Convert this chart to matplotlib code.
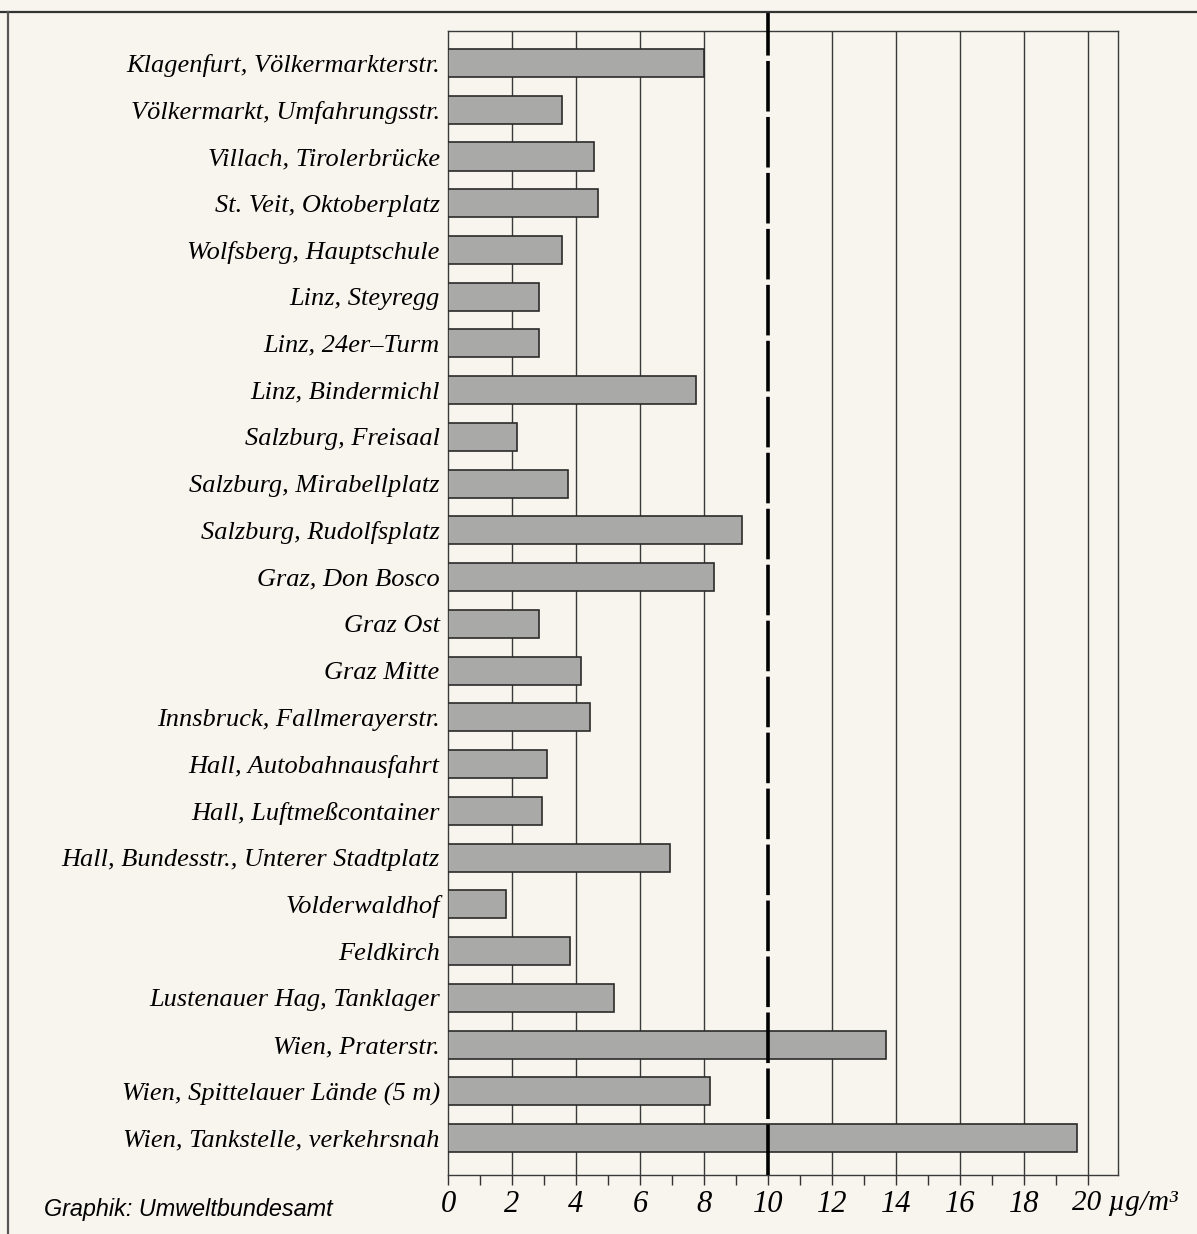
"""Benzene annual means at Austrian monitoring sites (bar chart)."""

import matplotlib

matplotlib.use("Agg")
import matplotlib.pyplot as plt
from matplotlib.lines import Line2D
import numpy as np

stations = [
    "Klagenfurt, Völkermarkterstr.",
    "Völkermarkt, Umfahrungsstr.",
    "Villach, Tirolerbrücke",
    "St. Veit, Oktoberplatz",
    "Wolfsberg, Hauptschule",
    "Linz, Steyregg",
    "Linz, 24er–Turm",
    "Linz, Bindermichl",
    "Salzburg, Freisaal",
    "Salzburg, Mirabellplatz",
    "Salzburg, Rudolfsplatz",
    "Graz, Don Bosco",
    "Graz Ost",
    "Graz Mitte",
    "Innsbruck, Fallmerayerstr.",
    "Hall, Autobahnausfahrt",
    "Hall, Luftmeßcontainer",
    "Hall, Bundesstr., Unterer Stadtplatz",
    "Volderwaldhof",
    "Feldkirch",
    "Lustenauer Hag, Tanklager",
    "Wien, Praterstr.",
    "Wien, Spittelauer Lände (5 m)",
    "Wien, Tankstelle, verkehrsnah",
]
values = [
    8.0, 3.55, 4.55, 4.7, 3.55, 2.85, 2.85, 7.75, 2.15, 3.75, 9.2, 8.3,
    2.85, 4.15, 4.45, 3.1, 2.95, 6.95, 1.8, 3.8, 5.2, 13.7, 8.2, 19.65,
]
x_ticks = [0, 2, 4, 6, 8, 10, 12, 14, 16, 18]
limit_value = 10
unit_label = "20 µg/m³"
source_note = "Graphik: Umweltbundesamt"

paper = "#f8f5ef"
serif = ["Liberation Serif", "DejaVu Serif"]

figure = plt.figure(figsize=(11.97, 12.34), dpi=100, facecolor=paper)
axis = figure.add_axes([0.3743, 0.0478, 0.5597, 0.9271], facecolor=paper)

positions = np.arange(len(stations))
axis.barh(
    positions,
    values,
    height=0.6,
    color="#a9a9a7",
    edgecolor="#2b2b2b",
    linewidth=1.2,
    zorder=3,
)

for value in range(2, 21, 2):
    if value != limit_value:
        axis.axvline(value, color="#3a3a3a", linewidth=1.0, zorder=1)

axis.axvline(
    limit_value,
    ymin=0,
    ymax=1.017,
    color="black",
    linewidth=2.6,
    dashes=(14, 1.5),
    clip_on=False,
    zorder=4,
)

axis.set_xlim(0, 20.94)
axis.set_ylim(len(stations) - 1 + 0.79, -0.685)

axis.set_yticks(positions)
axis.set_yticklabels(stations, family=serif, style="italic", fontsize=19)
axis.tick_params(axis="y", length=0, pad=6)

axis.set_xticks(x_ticks)
axis.set_xticklabels(
    [str(v) for v in x_ticks], family=serif, style="italic", fontsize=22
)
axis.set_xticks(np.arange(1, 21, 2).tolist() + [20], minor=True)
axis.tick_params(axis="x", which="both", direction="out", length=7,
                 width=1.0, color="#333333", pad=4)
axis.annotate(
    unit_label, xy=(19.5, 0), xycoords=("data", "axes fraction"),
    xytext=(0, -11), textcoords="offset points",
    ha="left", va="top", family=serif, style="italic", fontsize=21,
    annotation_clip=False,
)

for side in axis.spines.values():
    side.set_color("#3a3a3a")
    side.set_linewidth(1.0)

figure.add_artist(Line2D([0, 1], [0.990, 0.990], color="#333333", linewidth=1.6))
figure.add_artist(Line2D([0.0067, 0.0067], [0, 0.990], color="#555555",
                         linewidth=1.6))
figure.text(0.037, 0.0105, source_note, family=["Liberation Sans", "DejaVu Sans"],
            style="italic", fontsize=16.8, ha="left", va="bottom")

figure.savefig("out.png", dpi=100, facecolor=paper)
